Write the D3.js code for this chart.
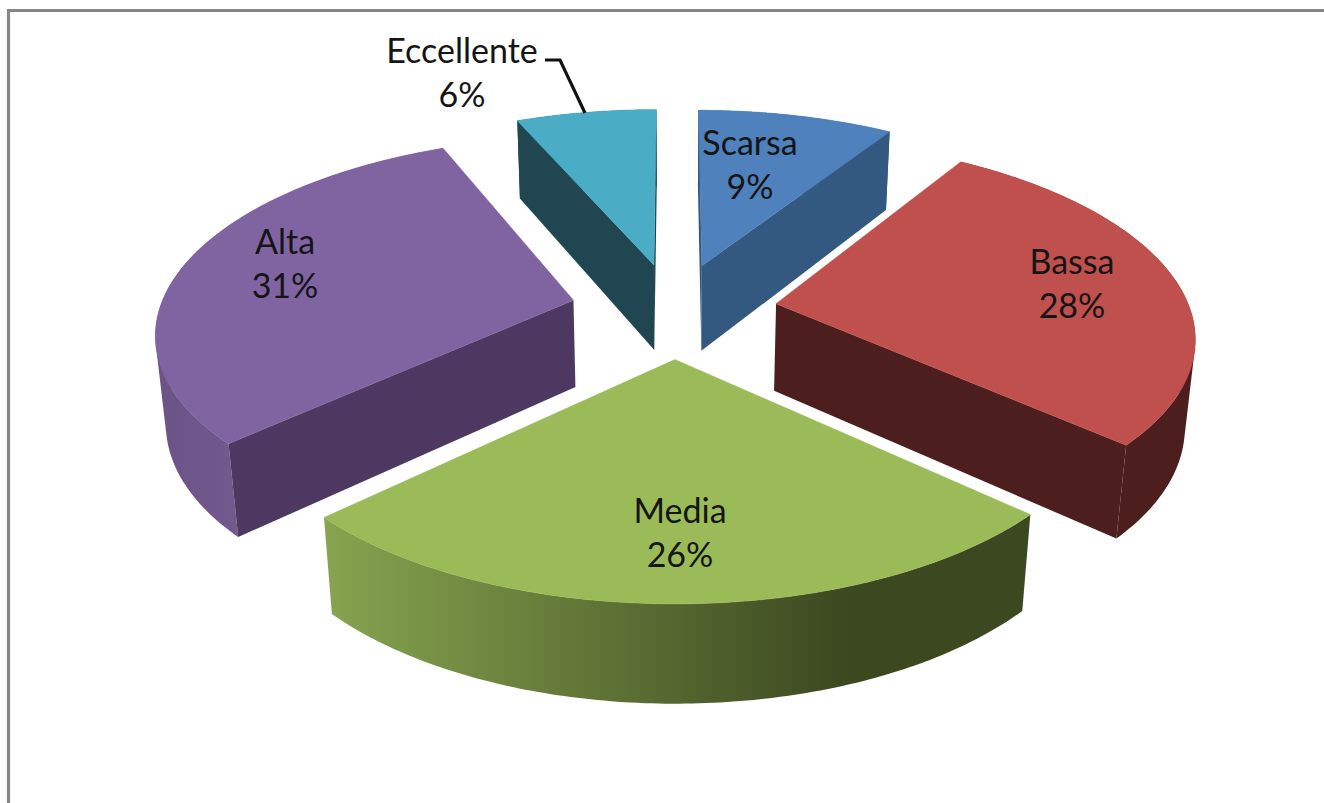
<!DOCTYPE html>
<html>
<head>
<meta charset="utf-8">
<script src="https://cdn.jsdelivr.net/npm/d3@7/dist/d3.min.js"></script>
<style>
html,body{margin:0;padding:0;background:#fff;overflow:hidden}
svg{display:block}
text{font-family:Lato,Carlito,"Open Sans",sans-serif;font-size:34px;fill:#151515;text-anchor:middle}
</style>
</head>
<body>
<svg id="chart" width="1324" height="803"></svg>
<script>
// ---- data ----
const categories = ["Scarsa","Bassa","Media","Alta","Eccellente"];
const values = [9,27.75,26.25,30.55,6.45];
const percentLabels = ["9%","28%","26%","31%","6%"];

// ---- style ----
const topColors = ["#4f81bd","#c0504d","#9bbb59","#8064a2","#4bacc6"];
const wallColors = ["#345981","#4c1f1e","#3e4a20","#4c3860","#1f4651"];
const outerStops = [
  [[0,"#345981"],[1,"#345981"]],
  [[0,"#4c1f1e"],[1,"#4c1f1e"]],
  [[0,"#87a44f"],[0.74,"#3c4820"],[1,"#3c4820"]],
  [[0,"#6b5386"],[1,"#806aa0"]],
  [[0,"#1f4651"],[1,"#1f4651"]]
];

// ---- layout: perspective projection of the tilted pie ----
const W = 1324, H = 803;
const CX = 674, CY = 310;      // pie centre on screen
const A = 414, B = 191;        // horizontal / vertical plane scale
const P = 0.15, Q = 0.02;      // perspective strength along depth / height
const D = 89;                  // extrusion height
const EXPLODE = 0.25;
const labelPos = [
  {x:750,y:143},{x:1072,y:262},{x:680,y:511},{x:285,y:242},{x:462,y:51}
];
const LINE_GAP = 44;

const project = (u,v,z) => {
  const w = 1 - P*v + Q*z;
  return [CX + A*u/w, CY + (B*v + D*z)/w];
};

const svg = d3.select("#chart");
const defs = svg.append("defs");
const line = d3.line();

// frame
svg.append("path")
  .attr("d", line([[8.5,H],[8.5,10.5],[W,10.5]]))
  .attr("fill","none").attr("stroke","#868686").attr("stroke-width",3.2);

const pie = d3.pie().sort(null).value(d=>d).startAngle(0).endAngle(2*Math.PI);
const arcs = pie(values).map((a,i)=>({...a,i}));

// back slices first
const order = [0,4,1,3,2];

order.forEach(i=>{
  const a = arcs[i];
  const mid = (a.startAngle+a.endAngle)/2;
  const ox = EXPLODE*Math.sin(mid), oy = -EXPLODE*Math.cos(mid);
  const pt = (t,z) => project(ox+Math.sin(t), oy-Math.cos(t), z);
  const apex = z => project(ox,oy,z);
  const ts = d3.range(0,121).map(k=>a.startAngle+(a.endAngle-a.startAngle)*k/120);

  const g = svg.append("g").attr("class","slice");

  // outer wall: union of the extruded arc segments, so the silhouette is the swept volume
  const top = ts.map(t=>pt(t,0));
  const bot = ts.map(t=>pt(t,1));
  const xs = top.map(p=>p[0]);
  const gid = "grad"+i;
  const lg = defs.append("linearGradient").attr("id",gid)
    .attr("gradientUnits","userSpaceOnUse")
    .attr("x1",d3.min(xs)).attr("x2",d3.max(xs)).attr("y1",0).attr("y2",0);
  outerStops[i].forEach(s=>lg.append("stop").attr("offset",s[0]).attr("stop-color",s[1]));

  const quads = d3.range(top.length-1).map(k=>{
    const q = [top[k],top[k+1],bot[k+1],bot[k]];
    return d3.polygonArea(q) < 0 ? q.reverse() : q;
  });
  g.append("path").attr("d",quads.map(q=>line(q)+"Z").join(""))
    .attr("fill",`url(#${gid})`);

  // radial walls: only those that face the viewer
  // (d3.polygonArea is positive for counter-clockwise on screen)
  [[a.startAngle,1],[a.endAngle,-1]].forEach(([t,sign])=>{
    const poly = [apex(0),pt(t,0),pt(t,1),apex(1)];
    if (d3.polygonArea(poly)*sign > 0) {
      g.append("path").attr("d",line(poly)+"Z").attr("fill",wallColors[i]);
    }
  });

  // top face
  g.append("path").attr("d",line([apex(0)].concat(top))+"Z")
    .attr("fill",topColors[i]).attr("stroke",topColors[i]).attr("stroke-width",0.6);
});

// leader line for Eccellente
svg.append("path")
  .attr("d",line([[545,60],[560,60],[585,113]]))
  .attr("fill","none").attr("stroke","#111").attr("stroke-width",3.2);

// labels
categories.forEach((c,i)=>{
  svg.append("text").attr("x",labelPos[i].x).attr("y",labelPos[i].y+12).text(c);
  svg.append("text").attr("x",labelPos[i].x).attr("y",labelPos[i].y+12+LINE_GAP).text(percentLabels[i]);
});
</script>
</body>
</html>
